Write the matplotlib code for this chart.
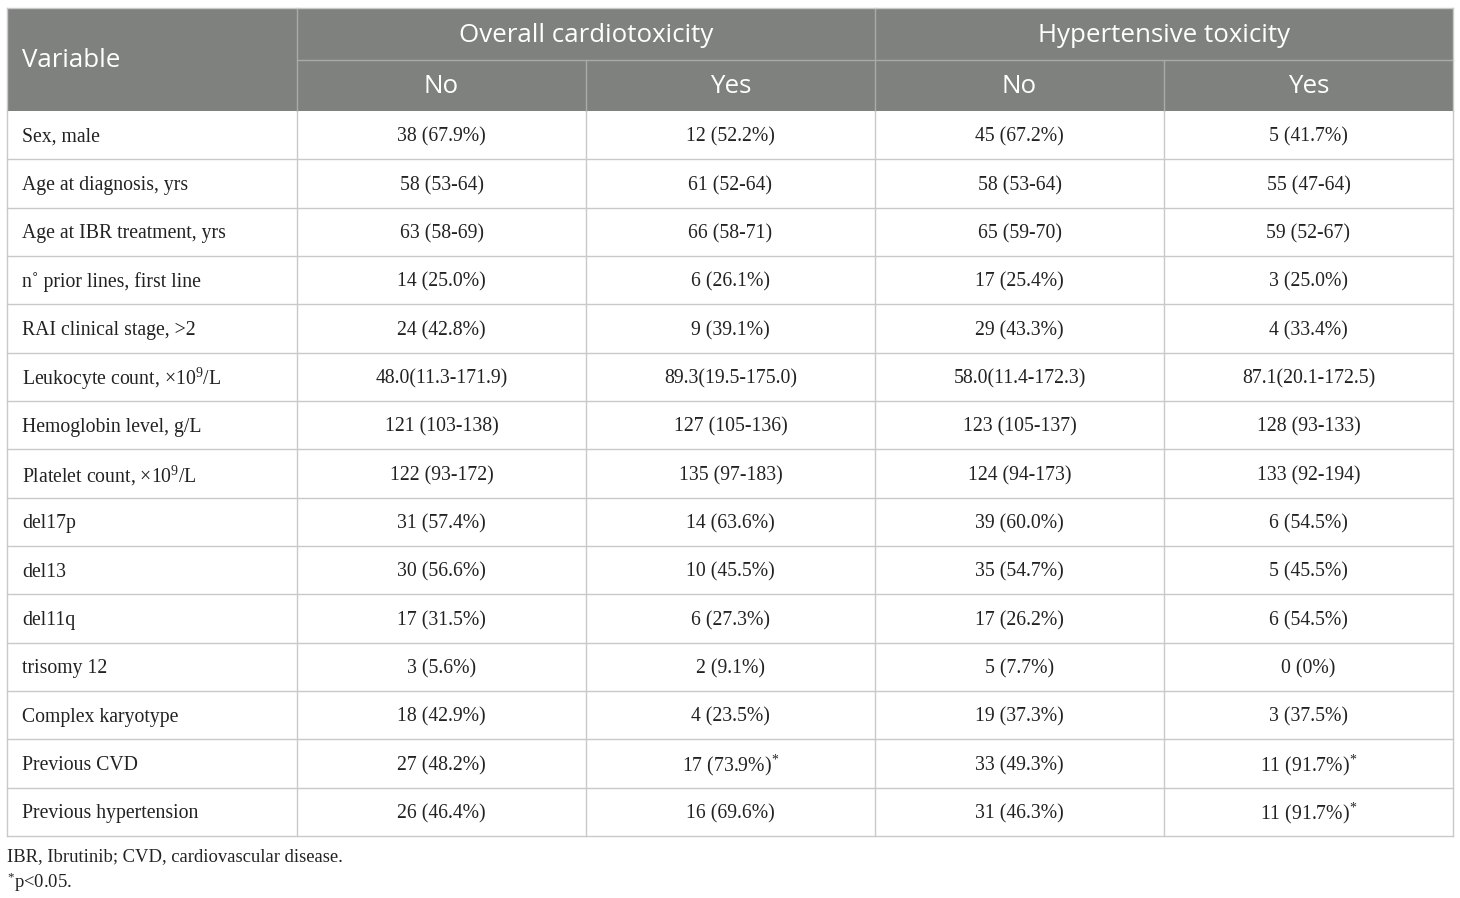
import matplotlib.pyplot as plt
from matplotlib.patches import Rectangle

plt.rcParams['mathtext.fontset'] = 'custom'
plt.rcParams['mathtext.rm'] = 'Liberation Serif'
plt.rcParams['mathtext.it'] = 'Liberation Serif:italic'

SUP9 = "$^{\\mathrm{9}}$"
STAR = "$^{\\mathrm{*}}$"

# table content
groups = ["Overall cardiotoxicity", "Hypertensive toxicity"]
sub_headers = ["No", "Yes", "No", "Yes"]
variables = [
    "Sex, male",
    "Age at diagnosis, yrs",
    "Age at IBR treatment, yrs",
    "n\u02da prior lines, first line",
    "RAI clinical stage, >2",
    "Leukocyte count, \u00d710" + SUP9 + "/L",
    "Hemoglobin level, g/L",
    "Platelet count, \u00d710" + SUP9 + "/L",
    "del17p",
    "del13",
    "del11q",
    "trisomy 12",
    "Complex karyotype",
    "Previous CVD",
    "Previous hypertension",
]
overall_no = ["38 (67.9%)", "58 (53-64)", "63 (58-69)", "14 (25.0%)", "24 (42.8%)",
              "48.0(11.3-171.9)", "121 (103-138)", "122 (93-172)", "31 (57.4%)",
              "30 (56.6%)", "17 (31.5%)", "3 (5.6%)", "18 (42.9%)", "27 (48.2%)",
              "26 (46.4%)"]
overall_yes = ["12 (52.2%)", "61 (52-64)", "66 (58-71)", "6 (26.1%)", "9 (39.1%)",
               "89.3(19.5-175.0)", "127 (105-136)", "135 (97-183)", "14 (63.6%)",
               "10 (45.5%)", "6 (27.3%)", "2 (9.1%)", "4 (23.5%)", "17 (73.9%)" + STAR,
               "16 (69.6%)"]
hyper_no = ["45 (67.2%)", "58 (53-64)", "65 (59-70)", "17 (25.4%)", "29 (43.3%)",
            "58.0(11.4-172.3)", "123 (105-137)", "124 (94-173)", "39 (60.0%)",
            "35 (54.7%)", "17 (26.2%)", "5 (7.7%)", "19 (37.3%)", "33 (49.3%)",
            "31 (46.3%)"]
hyper_yes = ["5 (41.7%)", "55 (47-64)", "59 (52-67)", "3 (25.0%)", "4 (33.4%)",
             "87.1(20.1-172.5)", "128 (93-133)", "133 (92-194)", "6 (54.5%)",
             "5 (45.5%)", "6 (54.5%)", "0 (0%)", "3 (37.5%)", "11 (91.7%)" + STAR,
             "11 (91.7%)" + STAR]
footnotes = ["IBR, Ibrutinib; CVD, cardiovascular disease.", STAR + "p<0.05."]

# layout in pixels
col_x = [7, 297, 586, 875, 1164, 1453]
top, mid, head_bot = 8, 60, 111
row_h = (836 - 111) / len(variables)
header_col = '#7f817f'
grid_col = '#c9c9c9'
head_line = '#a9aba9'

fig = plt.figure(figsize=(14.6, 8.98), dpi=100)
ax = fig.add_axes([0, 0, 1, 1])
ax.set_xlim(0, 1460)
ax.set_ylim(898, 0)
ax.axis('off')

# header block
ax.add_patch(Rectangle((col_x[0], top), col_x[-1] - col_x[0], head_bot - top,
                       facecolor=header_col, edgecolor='none'))
hfont = dict(family='Open Sans', color='white', fontsize=18.6, va='center')
ax.text(22, (top + head_bot) / 2 + 1, "Variable", ha='left', **hfont)
for i, g in enumerate(groups):
    x0, x1 = col_x[1 + 2 * i], col_x[3 + 2 * i]
    ax.text((x0 + x1) / 2, (top + mid) / 2 + 1, g, ha='center', **hfont)
for i, s in enumerate(sub_headers):
    ax.text((col_x[i + 1] + col_x[i + 2]) / 2, (mid + head_bot) / 2 + 1, s,
            ha='center', **hfont)

# header lines
ax.plot([col_x[1], col_x[-1]], [mid, mid], color=head_line, lw=1)
for x in col_x[1:-1]:
    y0 = top if x in (col_x[1], col_x[3]) else mid
    ax.plot([x, x], [y0, head_bot], color=head_line, lw=1)

# body
cols = [overall_no, overall_yes, hyper_no, hyper_yes]
bfont = dict(family='Liberation Serif', color='#222222', fontsize=14.2, va='center')
for r, var in enumerate(variables):
    yc = head_bot + (r + 0.5) * row_h + 2
    ax.text(22, yc, var, ha='left', **bfont)
    for c, col in enumerate(cols):
        ax.text((col_x[c + 1] + col_x[c + 2]) / 2, yc, col[r], ha='center', **bfont)

bottom = head_bot + len(variables) * row_h
for r in range(1, len(variables) + 1):
    y = head_bot + r * row_h
    ax.plot([col_x[0], col_x[-1]], [y, y], color=grid_col, lw=1)
for x in col_x:
    ax.plot([x, x], [head_bot, bottom], color=grid_col, lw=1)
for x in (col_x[0], col_x[-1]):
    ax.plot([x, x], [top, head_bot], color=grid_col, lw=1)
ax.plot([col_x[0], col_x[-1]], [top, top], color=grid_col, lw=1)

# footnotes
ffont = dict(bfont, fontsize=13.4)
ax.text(7, 857, footnotes[0], ha='left', **ffont)
ax.text(7, 882, footnotes[1], ha='left', **ffont)

fig.savefig('out.png', dpi=100)
